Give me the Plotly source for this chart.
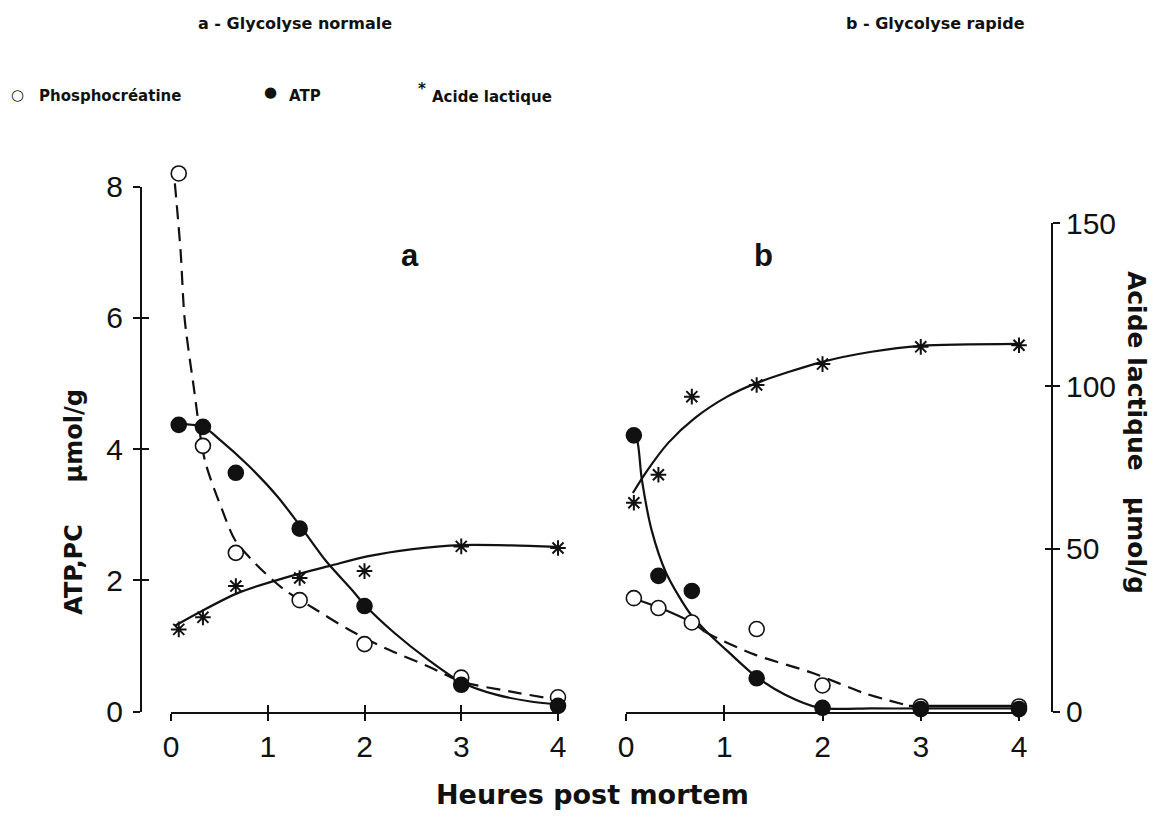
import plotly.graph_objects as go

# ---------------- data ----------------
t_pts = [0.08, 0.33, 0.67, 1.33, 2, 3, 4]
x_ticks = [0, 1, 2, 3, 4]
y_ticks_left = [0, 2, 4, 6, 8]
y_ticks_right = [0, 50, 100, 150]

# panel a - Glycolyse normale
a_pc = [8.2, 4.05, 2.42, 1.70, 1.03, 0.52, 0.22]
a_atp = [4.37, 4.34, 3.64, 2.79, 1.61, 0.41, 0.09]
a_lac = [25.3, 29.0, 38.6, 41.1, 43.2, 50.8, 50.3]

# fitted curves, panel a
a_pc_fit_t = [0.04, 0.10, 0.14, 0.23, 0.35, 0.53, 0.66, 0.87, 1.17, 1.47, 1.84, 2.21, 2.66, 3.0, 3.5, 4.0]
a_pc_fit_v = [8.05, 7.0, 6.0, 5.0, 3.83, 3.07, 2.62, 2.26, 1.86, 1.58, 1.25, 0.97, 0.69, 0.46, 0.31, 0.18]
a_atp_fit_t = [0.08, 0.33, 0.50, 0.80, 1.10, 1.34, 1.60, 1.88, 2.0, 2.31, 2.66, 3.0, 3.36, 3.7, 4.0]
a_atp_fit_v = [4.38, 4.34, 4.15, 3.75, 3.28, 2.82, 2.30, 1.84, 1.63, 1.20, 0.79, 0.45, 0.26, 0.16, 0.11]
a_lac_fit_t = [0.04, 0.29, 0.70, 1.30, 1.64, 2.04, 2.48, 3.0, 3.52, 4.0]
a_lac_fit_v = [26.4, 30.5, 36.6, 42.2, 44.8, 47.8, 49.9, 51.2, 51.1, 50.6]

# panel b - Glycolyse rapide
b_pc = [1.73, 1.58, 1.36, 1.26, 0.40, 0.08, 0.08]
b_atp = [4.21, 2.07, 1.84, 0.51, 0.06, 0.04, 0.04]
b_lac = [64.2, 72.8, 96.8, 100.4, 106.8, 112.1, 112.6]

# fitted curves, panel b
b_atp_fit_t = [0.07, 0.11, 0.16, 0.26, 0.41, 0.65, 0.80, 1.05, 1.32, 1.62, 1.97, 2.5, 3.0, 3.5, 4.0]
b_atp_fit_v = [4.21, 4.15, 3.55, 2.77, 2.11, 1.50, 1.25, 0.90, 0.54, 0.26, 0.06, 0.05, 0.05, 0.05, 0.05]
b_pc_fit1_t = [0.07, 0.35, 0.68, 0.80]
b_pc_fit1_v = [1.73, 1.58, 1.35, 1.22]
b_pc_fit2_t = [0.80, 0.93, 1.31, 1.90, 2.43, 2.88]
b_pc_fit2_v = [1.22, 1.12, 0.87, 0.59, 0.28, 0.09]
b_pc_fit3_t = [2.88, 3.5, 4.0]
b_pc_fit3_v = [0.09, 0.09, 0.09]
b_lac_fit_t = [0.07, 0.20, 0.43, 0.70, 1.03, 1.34, 2.0, 2.5, 3.0, 4.0]
b_lac_fit_v = [67.2, 73.4, 82.6, 90.2, 96.8, 101.1, 107.5, 110.6, 112.4, 113.0]

# ---------------- layout helpers ----------------
W, H = 1160, 822
# where the figure canvas lands in the photographed picture
CX0, CY0, CW, CH = 8, 16, 1144, 790
def PX(x):
    return (x - CX0) / CW
def PY(y):
    return 1 - (y - CY0) / CH

BLACK = "#111111"
TICKFONT = dict(family="Liberation Sans", size=30, color=BLACK)
BOLD = dict(family="DejaVu Sans", weight="bold", color=BLACK)

ZERO_Y = 712.5          # picture row of value 0 on both vertical scales
TOP8_Y = 186            # picture row of value 8 on the left scale
PPU = (ZERO_Y - TOP8_Y) / 8
LEFT_DATA_MAX = 8.6     # hidden data axis reaches a bit above the drawn axis

fig = go.Figure()

def curve(xa, ya, t, v, dash="solid"):
    fig.add_trace(go.Scatter(x=t, y=v, xaxis=xa, yaxis=ya, mode="lines",
                             line=dict(color=BLACK, width=2.2, dash=dash, shape="spline", smoothing=0.8),
                             showlegend=False, hoverinfo="skip"))

def pts(xa, ya, t, v, symbol, size, fill=BLACK, lw=1.6, name=None):
    fig.add_trace(go.Scatter(x=t, y=v, xaxis=xa, yaxis=ya, mode="markers", cliponaxis=False,
                             marker=dict(symbol=symbol, size=size, color=fill,
                                         line=dict(color=BLACK, width=lw)),
                             showlegend=False, name=name))

DASH = "14px,8px"
# panel a
curve("x", "y5", a_pc_fit_t, a_pc_fit_v, DASH)
curve("x", "y5", a_atp_fit_t, a_atp_fit_v)
curve("x", "y2", a_lac_fit_t, a_lac_fit_v)
pts("x", "y5", t_pts, a_pc, "circle", 15, fill="white", name="Phosphocréatine")
pts("x", "y5", t_pts, a_atp, "circle", 15, name="ATP")
pts("x", "y2", t_pts, a_lac, "asterisk-open", 13, lw=2, name="Acide lactique")
# panel b
curve("x2", "y5", b_atp_fit_t, b_atp_fit_v)
curve("x2", "y5", b_pc_fit1_t, b_pc_fit1_v)
curve("x2", "y5", b_pc_fit2_t, b_pc_fit2_v, DASH)
curve("x2", "y5", b_pc_fit3_t, b_pc_fit3_v)
curve("x2", "y2", b_lac_fit_t, b_lac_fit_v)
pts("x2", "y5", t_pts, b_pc, "circle", 15, fill="white", name="Phosphocréatine")
pts("x2", "y5", t_pts, b_atp, "circle", 15, name="ATP")
pts("x2", "y2", t_pts, b_lac, "asterisk-open", 13, lw=2, name="Acide lactique")

# empty traces so every axis (and the inner half of the crossing ticks) is drawn
for xa, ya in [("x", "y"), ("x3", "y3"), ("x4", "y4")]:
    fig.add_trace(go.Scatter(x=[None], y=[None], xaxis=xa, yaxis=ya, mode="markers",
                             showlegend=False, hoverinfo="skip"))

common_axis = dict(showgrid=False, zeroline=False, linecolor=BLACK, linewidth=2,
                   tickcolor=BLACK, tickwidth=2, ticklen=7, tickfont=TICKFONT, fixedrange=True)
overlay_axis = dict(showgrid=False, zeroline=False, showline=False, ticks="inside",
                    tickcolor=BLACK, tickwidth=2, ticklen=7, showticklabels=False, fixedrange=True)

fig.update_layout(
    width=W, height=H, autosize=False, margin=dict(l=0, r=0, t=0, b=0, pad=0),
    paper_bgcolor="white", plot_bgcolor="rgba(0,0,0,0)", showlegend=False,
    xaxis=dict(domain=[PX(171), PX(558)], range=[0, 4], anchor="y", tickvals=x_ticks,
               ticks="outside", showline=True, **common_axis),
    xaxis3=dict(overlaying="x", range=[0, 4], anchor="y", tickvals=x_ticks, **overlay_axis),
    xaxis2=dict(domain=[PX(626), PX(1019)], range=[0, 4], anchor="y", tickvals=x_ticks,
                ticks="outside", showline=True, **common_axis),
    xaxis4=dict(overlaying="x2", range=[0, 4], anchor="y", tickvals=x_ticks, **overlay_axis),
    yaxis=dict(domain=[PY(ZERO_Y), PY(TOP8_Y)], range=[0, 8], anchor="free", position=PX(141),
               tickvals=y_ticks_left, ticks="outside", showline=True, ticklabelstandoff=4, **common_axis),
    yaxis3=dict(overlaying="y", range=[0, 8], anchor="free", position=PX(141),
                tickvals=y_ticks_left, **overlay_axis),
    yaxis5=dict(domain=[PY(ZERO_Y), PY(ZERO_Y - LEFT_DATA_MAX * PPU)], range=[0, LEFT_DATA_MAX],
                anchor="free", position=PX(141), visible=False, fixedrange=True),
    yaxis2=dict(domain=[PY(ZERO_Y), PY(223)], range=[0, 150], anchor="free", position=PX(1052),
                side="right", tickvals=y_ticks_right, ticks="outside", showline=True, ticklabelstandoff=0,
                **common_axis),
    yaxis4=dict(overlaying="y2", range=[0, 150], anchor="free", position=PX(1052), side="right",
                tickvals=y_ticks_right, **overlay_axis),
)

ann = []
def text(x, y, s, size, xanchor="center", angle=0, font=None):
    f = dict(BOLD) if font is None else dict(font)
    f["size"] = size
    ann.append(dict(x=PX(x), y=PY(y), xref="paper", yref="paper", text=s, showarrow=False,
                    xanchor=xanchor, yanchor="middle", textangle=angle, font=f))

text(295, 23, "a - Glycolyse normale", 16)
text(935, 23, "b - Glycolyse rapide", 16)
text(17, 94, "○", 15, font=dict(family="DejaVu Sans", color=BLACK))
text(37, 95, "Phosphocréatine", 15, xanchor="left")
text(270, 91, "●", 15, font=dict(family="DejaVu Sans", color=BLACK))
text(287, 95, "ATP", 15, xanchor="left")
text(422, 88, "*", 15)
text(430, 96, "Acide lactique", 15, xanchor="left")
text(410, 255, "a", 31, font=dict(family="Liberation Sans", weight="bold", color=BLACK))
text(763, 255, "b", 31, font=dict(family="Liberation Sans", weight="bold", color=BLACK))
text(74, 502, "ATP,PC\u00a0\u00a0\u00a0\u00a0\u00a0µmol/g", 24, angle=-90)
text(1136, 432, "Acide lactique\u00a0\u00a0\u00a0µmol/g", 25, angle=90)
text(592, 795, "Heures post mortem", 27)
fig.update_layout(annotations=ann)

fig.write_html("out.html", config={"displayModeBar": False, "responsive": False},
               post_script="document.documentElement.style.margin='0';document.body.style.margin='0';"
                           "document.body.style.overflow='hidden';document.documentElement.style.overflow='hidden';")
